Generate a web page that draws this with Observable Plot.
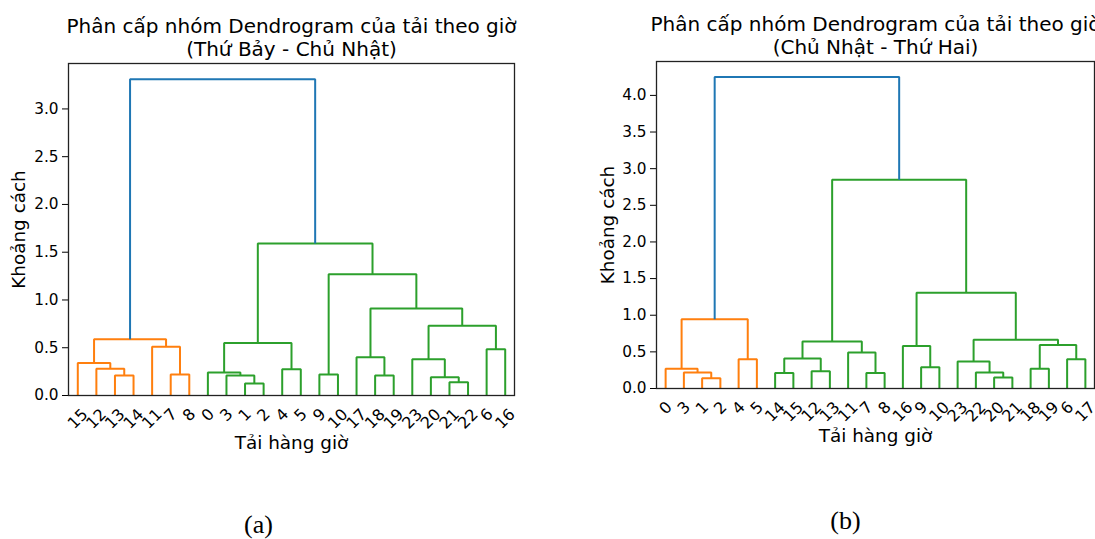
<!DOCTYPE html>
<html><head><meta charset="utf-8">
<script src="https://cdn.jsdelivr.net/npm/d3@7"></script>
<script src="https://cdn.jsdelivr.net/npm/@observablehq/plot@0.6"></script>
<style>
body{margin:0;background:#fff;overflow:hidden}
#root{position:relative;width:1095px;height:539px;overflow:hidden;background:#fff}
#root>svg{position:absolute;top:0}
</style></head><body><div id="root"></div>
<script>
// ---------- data ----------
// (a) Thứ Bảy - Chủ Nhật
const leavesA = ["15","12","13","14","11","7","8","0","3","1","2","4","5","9","10","17","18","19","23","20","21","22","6","16"];
// merges: [left child, right child, height]; "mK" refers to the K-th merge
const mergesA = [
  ["13","14",0.21], ["12","m0",0.28], ["15","m1",0.34], ["7","8",0.22], ["11","m3",0.51], ["m2","m4",0.59],
  ["1","2",0.125], ["3","m6",0.21], ["0","m7",0.24], ["4","5",0.275], ["m8","m9",0.55],
  ["9","10",0.22], ["18","19",0.21], ["17","m12",0.40], ["21","22",0.14], ["20","m14",0.19], ["23","m15",0.38],
  ["6","16",0.485], ["m16","m17",0.73], ["m13","m18",0.91], ["m11","m19",1.27], ["m10","m20",1.59], ["m5","m21",3.31]
];
const yTicksA = [0, 0.5, 1.0, 1.5, 2.0, 2.5, 3.0];
const titleA = "Phân cấp nhóm Dendrogram của tải theo giờ\n(Thứ Bảy - Chủ Nhật)";
const captionA = "(a)";

// (b) Chủ Nhật - Thứ Hai
const leavesB = ["0","3","1","2","4","5","14","15","12","13","11","7","8","16","9","10","23","22","20","21","18","19","6","17"];
const mergesB = [
  ["1","2",0.14], ["3","m0",0.22], ["0","m1",0.27], ["4","5",0.40], ["m2","m3",0.945],
  ["14","15",0.21], ["12","13",0.235], ["m5","m6",0.41], ["7","8",0.21], ["11","m8",0.49], ["m7","m9",0.64],
  ["9","10",0.29], ["16","m11",0.58], ["20","21",0.15], ["22","m13",0.22], ["23","m14",0.37],
  ["18","19",0.27], ["6","17",0.40], ["m16","m17",0.595], ["m15","m18",0.665], ["m12","m19",1.305],
  ["m10","m20",2.85], ["m4","m21",4.25]
];
const yTicksB = [0, 0.5, 1.0, 1.5, 2.0, 2.5, 3.0, 3.5, 4.0];
const titleB = "Phân cấp nhóm Dendrogram của tải theo giờ\n(Chủ Nhật - Thứ Hai)";
const captionB = "(b)";

const xLabel = "Tải hàng giờ";
const yLabel = "Khoảng cách";

// ---------- style ----------
const clusterPalette = ["#ff7f0e", "#2ca02c", "#d62728", "#9467bd", "#8c564b"];
const aboveColor = "#1f77b4";
const TICK_FS = 15.3, LEAF_FS = 16, LABEL_FS = 18.4, TITLE_FS = 20;

// ---------- dendrogram layout (scipy-like) ----------
function layout(leaves, merges) {
  const node = new Map();
  leaves.forEach((l, i) => node.set(l, {x: 5 + 10 * i, h: 0}));
  merges.forEach(([a, b, h], i) => node.set("m" + i, {x: (node.get(a).x + node.get(b).x) / 2, h}));
  const maxH = d3.max(merges, d => d[2]);
  const thr = 0.7 * maxH;
  const parent = new Map();
  merges.forEach(([a, b], i) => { parent.set(a, "m" + i); parent.set(b, "m" + i); });
  const roots = merges.map((m, i) => "m" + i)
    .filter(id => node.get(id).h < thr && (!parent.has(id) || node.get(parent.get(id)).h >= thr))
    .sort((p, q) => node.get(p).x - node.get(q).x);
  const cc = new Map(roots.map((r, k) => [r, clusterPalette[k % clusterPalette.length]]));
  const colorOf = id => {
    if (node.get(id).h >= thr) return aboveColor;
    let c = id; while (!cc.has(c)) c = parent.get(c); return cc.get(c);
  };
  const rows = [];
  merges.forEach(([a, b, h], i) => {
    const A = node.get(a), B = node.get(b), id = "m" + i, color = colorOf(id);
    rows.push({id, x: A.x, y: A.h, color}, {id, x: A.x, y: h, color}, {id, x: B.x, y: h, color}, {id, x: B.x, y: B.h, color});
  });
  const labels = leaves.map((l, i) => ({label: l, x: 5 + 10 * i}));
  return {rows, labels, maxH};
}

function chart(leaves, merges, yTicks, title, caption, g) {
  const {rows, labels, maxH} = layout(leaves, merges);
  const svg = Plot.plot({
    width: g.width, height: 539,
    marginTop: g.top, marginBottom: 539 - g.bottom, marginLeft: g.mLeft, marginRight: g.mRight,
    x: {domain: [0, 240], axis: null},
    y: {domain: [0, maxH * 1.05], ticks: yTicks, tickFormat: d3.format(".1f"), tickSize: 6, tickPadding: 4, label: null},
    color: {type: "identity"},
    style: {fontFamily: "'DejaVu Sans', sans-serif", fontSize: TICK_FS + "px", color: "black", background: "transparent", overflow: "visible"},
    marks: [
      Plot.line(rows, {x: "x", y: "y", z: "id", stroke: "color", strokeWidth: 2, strokeLinecap: "butt", strokeLinejoin: "miter"}),
      Plot.frame({stroke: "#222", strokeWidth: 1.3}),
      Plot.text(labels.filter(d => d.label.length === 1), {x: "x", y: () => 0, text: "label", rotate: -45, dy: 19.5, fontSize: LEAF_FS, fill: "black", textAnchor: "middle", lineAnchor: "middle"}),
      Plot.text(labels.filter(d => d.label.length === 2), {x: "x", y: () => 0, text: "label", rotate: -45, dy: 23.5, fontSize: LEAF_FS, fill: "black", textAnchor: "middle", lineAnchor: "middle"}),
      Plot.text([title], {text: d => d, frameAnchor: "top", dy: -8, textAnchor: "middle", lineAnchor: "bottom", lineHeight: 1.115, fontSize: TITLE_FS, fill: "black"}),
      Plot.text([yLabel], {text: d => d, frameAnchor: "left", dx: g.yLabDx, rotate: -90, textAnchor: "middle", lineAnchor: "middle", fontSize: LABEL_FS, fill: "black"}),
      Plot.text([xLabel], {text: d => d, frameAnchor: "bottom", dy: 48, textAnchor: "middle", lineAnchor: "middle", fontSize: LABEL_FS, fill: "black"}),
      Plot.text([caption], {text: d => d, frameAnchor: "bottom", dx: g.capDx, dy: g.capDy, textAnchor: "middle", lineAnchor: "bottom", fontSize: 26, fontFamily: "'Liberation Serif', serif", fill: "black"})
    ]
  });
  svg.style.left = g.left + "px";
  return svg;
}

const root = document.getElementById("root");
root.appendChild(chart(leavesA, mergesA, yTicksA, titleA, captionA,
  {left: 0, width: 540, top: 63, bottom: 395, mLeft: 68, mRight: 26, yLabDx: -49.5, capDx: -33, capDy: 137}));
root.appendChild(chart(leavesB, mergesB, yTicksB, titleB, captionB,
  {left: 560, width: 560, top: 61, bottom: 388, mLeft: 96, mRight: 26, yLabDx: -48.5, capDx: -30, capDy: 140}));
</script></body></html>
